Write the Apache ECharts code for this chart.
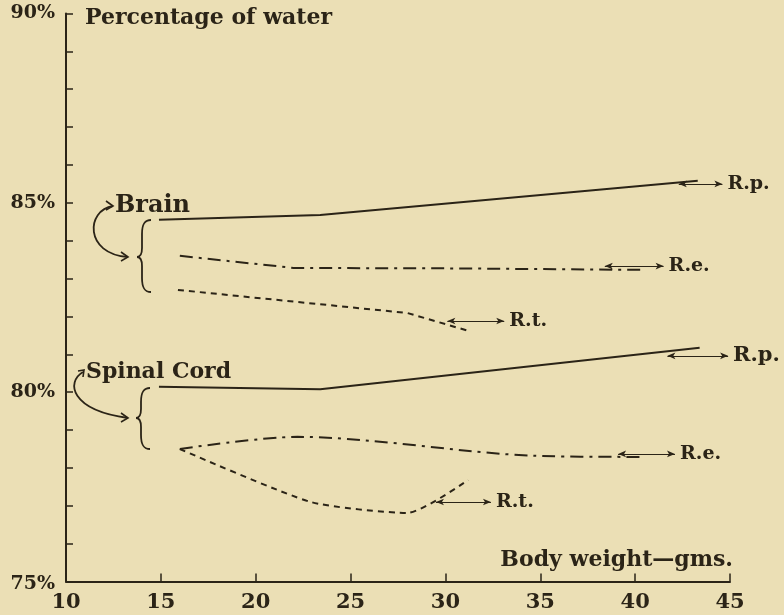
<!DOCTYPE html>
<html><head><meta charset="utf-8">
<script src="https://cdn.jsdelivr.net/npm/echarts@6/dist/echarts.min.js"></script>
<style>html,body{margin:0;padding:0;background:#ebdfb5}#c{width:784px;height:615px}</style>
</head><body><div id="c"></div>
<script>
// ---- data ----
var xTicks = [10, 15, 20, 25, 30, 35, 40, 45];
var yTickLabels = [75, 80, 85, 90];
var brainRp = [[14.9, 84.55], [23.4, 84.68], [43.3, 85.58]];
var brainRe = [[16.0, 83.60], [22.0, 83.28], [30.0, 83.27], [40.3, 83.23]];
var brainRt = [[15.9, 82.70], [28.0, 82.09], [31.2, 81.62]];
var cordRp = [[14.9, 80.14], [23.4, 80.08], [43.4, 81.17]];
var cordRe = [[16.0, 78.50], [22.2, 78.82], [34.7, 78.32], [40.3, 78.29]];
var cordRt = [[16.0, 78.50], [22.9, 77.10], [28.0, 76.81], [31.2, 77.68]];
// arrows beside the line ends: [x1, x2, y, label]
var brainArrows = [[42.3, 44.6, 85.50, 'R.p.'], [38.4, 41.5, 83.33, 'R.e.'], [30.1, 33.1, 81.88, 'R.t.']];
var cordArrows = [[41.7, 44.9, 80.96, 'R.p.'], [39.1, 42.1, 78.37, 'R.e.'], [29.5, 32.4, 77.10, 'R.t.']];

var ink = '#2b2417';
var FONT = 'DejaVu Serif';

function arrowLine(a, size) {
  return {
    silent: true, animation: false,
    symbol: ['arrow', 'arrow'], symbolSize: [5, 8],
    lineStyle: {color: ink, width: 1.2, type: 'solid'},
    label: {show: true, position: 'end', distance: 5, formatter: a[3],
      color: ink, fontFamily: FONT, fontWeight: 'bold', fontSize: size || 19},
    emphasis: {disabled: true},
    data: [[{coord: [a[0], a[2]]}, {coord: [a[1], a[2]]}]]
  };
}

function ser(name, data, type, arrow, size, smooth) {
  return {
    name: name, type: 'line', data: data, showSymbol: false, symbol: 'none',
    smooth: smooth || false, animation: false, silent: true,
    lineStyle: {color: ink, width: 2, type: type},
    markLine: arrowLine(arrow, size)
  };
}

var dashDot = [13, 6, 3, 6];
var dashed = [6, 5];

var st = {fill: null, stroke: ink, lineWidth: 1.8};
function bz(x1, y1, c1x, c1y, c2x, c2y, x2, y2) {
  return {type: 'bezierCurve', silent: true,
    shape: {x1: x1, y1: y1, cpx1: c1x, cpy1: c1y, cpx2: c2x, cpy2: c2y, x2: x2, y2: y2}, style: st};
}
function ln(x1, y1, x2, y2) {
  return {type: 'line', silent: true, shape: {x1: x1, y1: y1, x2: x2, y2: y2}, style: st};
}
function pl(pts) {
  return {type: 'polyline', silent: true, shape: {points: pts}, style: {fill: null, stroke: ink, lineWidth: 1.6}};
}
function brace(xr, xm, xt, t, m, b) {
  return [
    bz(xr, t, xm + 2, t, xm, t + 5, xm, t + 14),
    ln(xm, t + 14, xm, m - 9),
    bz(xm, m - 9, xm, m - 3, xm - 2, m, xt, m),
    bz(xt, m, xm - 2, m, xm, m + 3, xm, m + 9),
    ln(xm, m + 9, xm, b - 14),
    bz(xm, b - 14, xm, b - 5, xm + 2, b, xr, b)
  ];
}

var graphics = [
  {type: 'text', x: 115, y: 194, silent: true,
    style: {text: 'Brain', fill: ink, font: 'bold 24px "DejaVu Serif"'}},
  {type: 'text', x: 86, y: 361, silent: true,
    style: {text: 'Spinal Cord', fill: ink, font: 'bold 22px "DejaVu Serif"'}},
  bz(113, 206, 86, 210, 84, 254, 128, 257),
  pl([[106, 201], [113, 206], [106, 210]]),
  pl([[121, 252], [128, 257], [121, 261]]),
  bz(83, 372, 66, 382, 70, 410, 128, 418),
  pl([[78, 371], [84, 370], [83, 377]]),
  pl([[121, 413], [128, 418], [121, 422]])
].concat(brace(151, 142, 137, 220, 257, 292), brace(150, 141, 136, 388, 418, 449));

var chart = echarts.init(document.getElementById('c'));
chart.setOption({
  backgroundColor: '#ebdfb5',
  animation: false,
  grid: {left: 66, right: 54, top: 13.5, bottom: 33.5, containLabel: false, outerBoundsMode: 'none'},
  xAxis: {
    type: 'value', min: xTicks[0], max: xTicks[xTicks.length - 1], interval: 5,
    name: 'Body weight\u2014gms.', nameLocation: 'end', nameGap: 3,
    nameTextStyle: {align: 'right', verticalAlign: 'bottom', padding: [0, 0, 10, 0],
      color: ink, fontFamily: FONT, fontWeight: 'bold', fontSize: 22},
    axisLine: {show: true, onZero: false, lineStyle: {color: ink, width: 2}},
    axisTick: {show: true, inside: true, length: 8, lineStyle: {color: ink, width: 1.5}},
    axisLabel: {color: ink, fontFamily: FONT, fontWeight: 'bold', fontSize: 21, margin: 11,
      formatter: function (v) { return xTicks.indexOf(v) >= 0 ? String(v) : ''; }},
    splitLine: {show: false}
  },
  yAxis: {
    type: 'value', min: yTickLabels[0], max: yTickLabels[yTickLabels.length - 1], interval: 1,
    name: 'Percentage of water', nameLocation: 'end', nameGap: -5,
    nameTextStyle: {align: 'left', verticalAlign: 'middle', padding: [0, 0, 0, 19],
      color: ink, fontFamily: FONT, fontWeight: 'bold', fontSize: 22},
    axisLine: {show: true, lineStyle: {color: ink, width: 2}},
    axisTick: {show: true, inside: true, length: 7, lineStyle: {color: ink, width: 1.5}},
    axisLabel: {color: ink, fontFamily: FONT, fontWeight: 'bold', fontSize: 19, margin: 11,
      formatter: function (v) {
        if (yTickLabels.indexOf(v) < 0) return '';
        return v === yTickLabels[0] ? '{low|' + v + '%}' : v + '%';
      },
      rich: {low: {color: ink, fontFamily: FONT, fontWeight: 'bold', fontSize: 19, padding: [6, 0, 0, 0]}}
    },
    splitLine: {show: false}
  },
  graphic: graphics,
  series: [
    ser('Brain R.p.', brainRp, 'solid', brainArrows[0], 19),
    ser('Brain R.e.', brainRe, dashDot, brainArrows[1], 19),
    ser('Brain R.t.', brainRt, dashed, brainArrows[2], 19),
    ser('Spinal Cord R.p.', cordRp, 'solid', cordArrows[0], 21),
    ser('Spinal Cord R.e.', cordRe, dashDot, cordArrows[1], 19, 0.3),
    ser('Spinal Cord R.t.', cordRt, dashed, cordArrows[2], 19, 0.2)
  ]
});
</script></body></html>
